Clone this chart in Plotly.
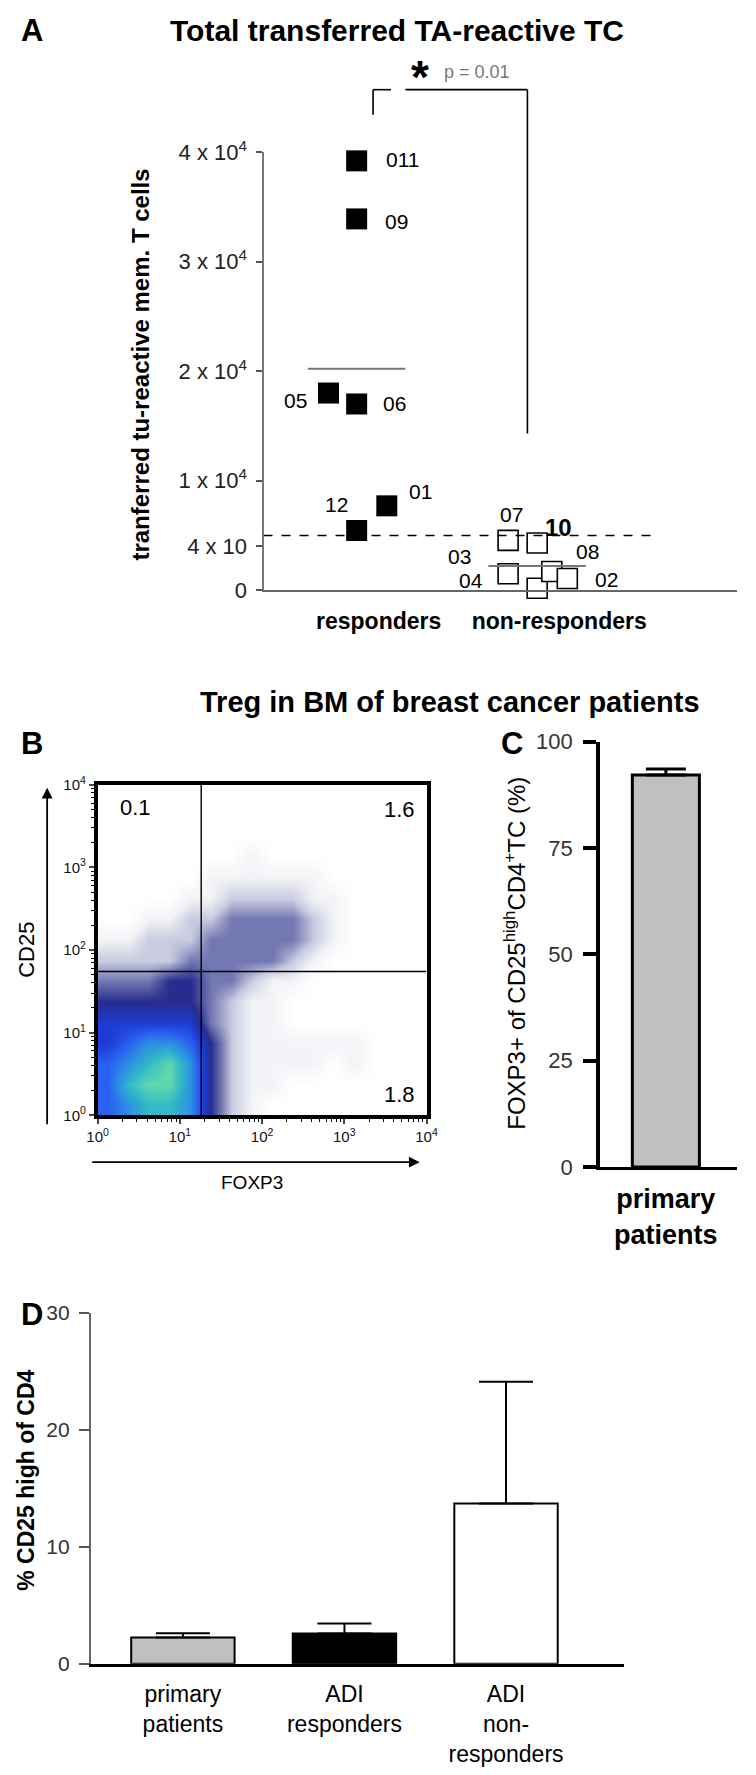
import numpy as np
import plotly.graph_objects as go

# The page keeps the default 8px body margin, so the figure is sized to fill the
# 756x1775 window exactly together with that margin.
PAGE_W, PAGE_H, MARGIN = 756, 1775, 8
W, H = PAGE_W - 2 * MARGIN, PAGE_H - 2 * MARGIN
FONT = "Liberation Sans, Arial, sans-serif"

# ---------------- DATA ----------------
# Panel A: transferred tumour-reactive memory T cells
resp_ids = ["011", "09", "05", "06", "01", "12"]
resp_vals = [39200, 33900, 18000, 17000, 7700, 5450]
resp_jitter = [0.0, 0.0, -0.156, 0.0, 0.167, 0.0]
nonresp_ids = ["07", "10", "03", "04", "08", "02"]
nonresp_vals = [4550, 4300, 1500, 180, 1700, 1070]
nonresp_jitter = [-0.161, 0.0, -0.161, 0.0, 0.081, 0.167]
groups_a = ["responders", "non-responders"]
threshold_a = 5000
p_text = "p = 0.01"
ytick_vals_a = [0, 4000, 10000, 20000, 30000, 40000]
ytick_text_a = ["0", "4 x 10", "1 x 10<sup>4</sup>", "2 x 10<sup>4</sup>",
                "3 x 10<sup>4</sup>", "4 x 10<sup>4</sup>"]

# Panel B: flow cytometry density (log10 decades, 0.25-decade cells, rows from CD25 high to low)
foxp3_centers = [0.125 + 0.25 * i for i in range(16)]
cd25_centers = [0.125 + 0.25 * i for i in range(16)]
density_rows_top_down = [
    [0, 0, 0, 0, 0, 0, 0, 0, 0, 0, 0, 0, 0, 0, 0, 0],
    [0, 0, 0, 0, 0, 0, 0, 0, 0, 0, 0, 0, 0, 0, 0, 0],
    [0, 0, 0, 0, 0, 0, 0, 0, 0, 0, 0, 0, 0, 0, 0, 0],
    [0, 0, 0, 0, 0, 0, 0, 1, 0, 0, 0, 0, 0, 0, 0, 0],
    [0, 0, 0, 0, 0, 1, 1, 1, 1, 1, 1, 0, 0, 0, 0, 0],
    [0, 0, 0, 0, 1, 1, 2, 2, 2, 2, 1, 1, 0, 0, 0, 0],
    [0, 0, 1, 1, 2, 2, 3, 3, 3, 3, 2, 1, 0, 0, 0, 0],
    [1, 1, 2, 2, 2, 3, 3, 3, 3, 3, 2, 1, 0, 0, 0, 0],
    [2, 2, 2, 2, 3, 3, 3, 3, 3, 2, 1, 0, 0, 0, 0, 0],
    [3, 3, 3, 4, 4, 3, 3, 2, 1, 1, 0, 0, 0, 0, 0, 0],
    [4, 4, 4, 4, 4, 3, 2, 1, 1, 0, 0, 0, 0, 0, 0, 0],
    [5, 5, 5, 5, 5, 3, 2, 1, 1, 0, 0, 0, 0, 0, 0, 0],
    [5, 6, 7, 7, 6, 4, 2, 1, 1, 1, 1, 1, 1, 0, 0, 0],
    [6, 7, 8, 9, 7, 4, 2, 1, 1, 1, 1, 0, 1, 0, 0, 0],
    [6, 8, 9, 9, 7, 4, 2, 1, 1, 0, 0, 0, 0, 0, 0, 0],
    [6, 7, 8, 8, 7, 4, 2, 1, 0, 0, 0, 0, 0, 0, 0, 0],
]
gate_foxp3_log = 1.26
gate_cd25_log = 1.74
quadrant_labels = ["0.1", "1.6", "1.8"]

# Panel C
c_groups = ["primary<br>patients"]
c_vals = [92.2]
c_err = [1.4]

# Panel D
d_groups = ["primary<br>patients", "ADI<br>responders", "ADI<br>non-<br>responders"]
d_vals = [2.26, 2.6, 13.7]
d_err = [0.35, 0.85, 10.4]
d_colors = ["#c0c0c0", "#000000", "#ffffff"]

# ---------------- helpers (page pixel -> paper) ----------------
def px(x):
    return min(1.0, max(0.0, (x - MARGIN) / W))

def py(y):
    return min(1.0, max(0.0, 1 - (y - MARGIN) / H))

def to_paper(v, dom, rng):
    return dom[0] + (v - rng[0]) / (rng[1] - rng[0]) * (dom[1] - dom[0])

def note(x, y, text, size, xanchor="center", yanchor="middle", **kw):
    d = dict(x=px(x), y=py(y), xref="paper", yref="paper", text=text, showarrow=False,
             xanchor=xanchor, yanchor=yanchor,
             font=dict(size=size, color=kw.pop("color", "black"), family=FONT))
    d.update(kw)
    return d

fig = go.Figure()

# ---------------- Panel A ----------------
xa_dom = [px(260), px(748)]
ya_dom = [py(587), py(139)]
xa_rng = [0.484, 3.107]
ya_rng = [0, 40000]

rx = [1 + j for j in resp_jitter]
nx = [2 + j for j in nonresp_jitter]
fig.add_trace(go.Scatter(x=rx, y=resp_vals, mode="markers", cliponaxis=False,
                         marker=dict(symbol="square", size=21, color="black"),
                         xaxis="x", yaxis="y", hoverinfo="skip"))
fig.add_trace(go.Scatter(x=nx, y=nonresp_vals, mode="markers", cliponaxis=False,
                         marker=dict(symbol="square", size=20, color="white",
                                     line=dict(color="black", width=1.6)),
                         xaxis="x", yaxis="y", hoverinfo="skip"))

shapes = []
annotations = []
for g, vals in zip([1, 2], [resp_vals, nonresp_vals]):
    m = float(np.mean(vals))
    shapes.append(dict(type="line", xref="x", yref="y", x0=g - 0.27, x1=g + 0.27, y0=m, y1=m,
                       line=dict(color="#777", width=2)))
shapes.append(dict(type="line", xref="x", yref="y", x0=xa_rng[0], x1=2.65,
                   y0=threshold_a, y1=threshold_a, line=dict(color="black", width=1.5, dash="dash")))

lab_off = {"011": (46, -1), "09": (40, 3), "05": (-33, 7), "06": (38, 0), "01": (34, -14),
           "12": (-20, -26), "07": (3, -26), "10": (21, -16), "03": (-49, -17),
           "04": (-66, -8), "08": (36, -20), "02": (39, 1)}
for ids, xs, vals in [(resp_ids, rx, resp_vals), (nonresp_ids, nx, nonresp_vals)]:
    for i, x, v in zip(ids, xs, vals):
        dx, dy = lab_off[i]
        bold = i == "10"
        annotations.append(dict(x=x, y=v, xref="x", yref="y", text=("<b>%s</b>" % i) if bold else i,
                                showarrow=False, xshift=dx, yshift=-dy, xanchor="center", yanchor="middle",
                                font=dict(size=24 if bold else 21, color="black", family=FONT)))

def ax_x(v):
    return to_paper(v, xa_dom, xa_rng)

def ax_y(v):
    return to_paper(v, ya_dom, ya_rng)

bx0, bx1 = 1.091, 1.946
by_top, by_l, by_r = 45700, 43400, 14300
bgap0, bgap1 = 1.19, 1.27
br = dict(color="black", width=1.6)
shapes += [
    dict(type="line", xref="paper", yref="paper", x0=ax_x(bx0), x1=ax_x(bx0), y0=ax_y(by_l), y1=ax_y(by_top), line=br),
    dict(type="line", xref="paper", yref="paper", x0=ax_x(bx0), x1=ax_x(bgap0), y0=ax_y(by_top), y1=ax_y(by_top), line=br),
    dict(type="line", xref="paper", yref="paper", x0=ax_x(bgap1), x1=ax_x(bx1), y0=ax_y(by_top), y1=ax_y(by_top), line=br),
    dict(type="line", xref="paper", yref="paper", x0=ax_x(bx1), x1=ax_x(bx1), y0=ax_y(by_top), y1=ax_y(by_r), line=br),
]
annotations.append(note(421, 62, "<b>*</b>", 46))
annotations.append(note(444, 57, p_text, 18, xanchor="left", color="#777"))
annotations.append(note(398, 15, "<b>Total transferred TA-reactive TC</b>", 30))
annotations.append(note(8, 15, "<b>A</b>", 31, xanchor="left"))
annotations.append(note(133, 356, "<b>tranferred tu-reactive mem. T cells</b>", 24, textangle=-90))

# ---------------- Panel B ----------------
xb_dom = [px(89), px(428)]
yb_dom = [py(1124), py(786)]
z = density_rows_top_down[::-1]
fig.add_trace(go.Heatmap(x=foxp3_centers, y=cd25_centers, z=z, zmin=0, zmax=9, zsmooth="best",
                         showscale=False, hoverinfo="skip", xaxis="x2", yaxis="y2",
                         colorscale=[[0, "#ffffff"], [1 / 9, "#f3f4f7"], [2 / 9, "#c9cbe0"],
                                     [3 / 9, "#7378b2"], [4 / 9, "#262d8e"], [5 / 9, "#1c3bd2"],
                                     [6 / 9, "#2a60f0"], [7 / 9, "#2d90e4"], [8 / 9, "#33bac6"],
                                     [1, "#62d8ae"]]))
shapes += [
    dict(type="line", xref="x2", yref="y2", x0=gate_foxp3_log, x1=gate_foxp3_log, y0=0, y1=4,
         line=dict(color="black", width=1.4)),
    dict(type="line", xref="x2", yref="y2", x0=0, x1=4, y0=gate_cd25_log, y1=gate_cd25_log,
         line=dict(color="black", width=1.4)),
]
annotations += [
    dict(x=0.25, y=3.72, xref="x2", yref="y2", text=quadrant_labels[0], xanchor="left", yanchor="middle",
         showarrow=False, font=dict(size=22, color="black", family=FONT)),
    dict(x=3.88, y=3.7, xref="x2", yref="y2", text=quadrant_labels[1], xanchor="right", yanchor="middle",
         showarrow=False, font=dict(size=22, color="black", family=FONT)),
    dict(x=3.88, y=0.25, xref="x2", yref="y2", text=quadrant_labels[2], xanchor="right", yanchor="middle",
         showarrow=False, font=dict(size=22, color="black", family=FONT)),
]
annotations.append(note(8, 744, "<b>B</b>", 31, xanchor="left"))
annotations.append(note(452, 701, "<b>Treg in BM of breast cancer patients</b>", 29))
annotations.append(dict(x=px(37), y=py(789), xref="paper", yref="paper", ax=0, ay=338, text="",
                        showarrow=True, arrowhead=2, arrowsize=1.2, arrowwidth=1.8, arrowcolor="black"))
annotations.append(dict(x=px(421), y=py(1172), xref="paper", yref="paper", ax=-329, ay=0, text="",
                        showarrow=True, arrowhead=2, arrowsize=1.2, arrowwidth=1.8, arrowcolor="black"))
annotations.append(note(15, 955, "CD25", 22, textangle=-90))
annotations.append(note(248, 1193, "FOXP3", 19))

decades = [0, 1, 2, 3, 4]
dec_text = ["10<sup>%d</sup>" % d for d in decades]
minor_vals = [float(np.log10(k)) + d for d in range(4) for k in range(2, 10)]

# ---------------- Panel C ----------------
fig.add_trace(go.Bar(x=c_groups, y=c_vals, width=0.49, xaxis="x3", yaxis="y3",
                     marker=dict(color="#c0c0c0", line=dict(color="black", width=3)),
                     error_y=dict(type="data", array=c_err, arrayminus=[0], symmetric=False,
                                  color="black", thickness=3, width=20),
                     hoverinfo="skip"))
annotations.append(note(503, 744, "<b>C</b>", 31, xanchor="left"))
annotations.append(note(519, 958, "FOXP3+ of CD25<sup>high</sup>CD4<sup>+</sup>TC (%)", 24, textangle=-90))

# ---------------- Panel D ----------------
for g, v, e, c in zip(d_groups, d_vals, d_err, d_colors):
    fig.add_trace(go.Bar(x=[g], y=[v], width=0.64, xaxis="x4", yaxis="y4",
                         marker=dict(color=c, line=dict(color="black", width=2)),
                         error_y=dict(type="data", array=[e], arrayminus=[0], symmetric=False,
                                      color="black", thickness=2, width=27),
                         hoverinfo="skip"))
annotations.append(note(8, 1328, "<b>D</b>", 31, xanchor="left"))
annotations.append(note(15, 1497, "<b>% CD25 high of CD4</b>", 23, textangle=-90))

# ---------------- layout ----------------
fig.update_layout(
    width=W, height=H, margin=dict(l=0, r=0, t=0, b=0),
    paper_bgcolor="white", plot_bgcolor="white", showlegend=False, barmode="overlay",
    font=dict(family=FONT, color="black"),
    shapes=shapes, annotations=annotations,
    xaxis=dict(domain=xa_dom, range=xa_rng, anchor="y", showline=True, linecolor="#666", linewidth=2,
               ticks="", tickvals=[1, 2], ticktext=groups_a, ticklabelshift=22, ticklabelstandoff=9,
               tickfont=dict(size=23, weight="bold", color="black"),
               showgrid=False, zeroline=False),
    yaxis=dict(domain=ya_dom, range=ya_rng, anchor="x", showline=True, linecolor="#777", linewidth=2,
               ticks="outside", ticklen=6, tickcolor="#555", tickwidth=1.5,
               tickvals=ytick_vals_a, ticktext=ytick_text_a, tickfont=dict(size=22, color="#222"),
               ticklabelstandoff=4, showgrid=False, zeroline=False),
    xaxis2=dict(domain=xb_dom, range=[0, 4], anchor="y2", showline=True, mirror=True, linecolor="black",
                linewidth=3.5, ticks="outside", ticklen=5, tickwidth=1.5, tickvals=decades, ticktext=dec_text,
                tickfont=dict(size=15, color="#111"),
                minor=dict(tickvals=minor_vals, ticks="outside", ticklen=3, tickwidth=1, tickcolor="black"),
                showgrid=False, zeroline=False),
    yaxis2=dict(domain=yb_dom, range=[0, 4], anchor="x2", showline=True, mirror=True, linecolor="black",
                linewidth=3.5, ticks="outside", ticklen=5, tickwidth=1.5, tickvals=decades, ticktext=dec_text,
                tickfont=dict(size=15, color="#111"),
                minor=dict(tickvals=minor_vals, ticks="outside", ticklen=3, tickwidth=1, tickcolor="black"),
                showgrid=False, zeroline=False),
    xaxis3=dict(domain=[px(607), px(748)], range=[-0.48, 0.52], anchor="y3", type="category",
                showline=True, linecolor="black", linewidth=3, ticks="",
                tickfont=dict(size=27, weight="bold", color="black"), ticklabelstandoff=6,
                showgrid=False, zeroline=False),
    yaxis3=dict(domain=[py(1177), py(742)], range=[0, 100], anchor="x3", showline=True, linecolor="black",
                linewidth=4, ticks="outside", ticklen=13, tickwidth=4, tickcolor="black",
                tickvals=[0, 25, 50, 75, 100], tickfont=dict(size=22, color="#333"), ticklabelstandoff=6,
                showgrid=False, zeroline=False),
    xaxis4=dict(domain=[px(82), px(632)], range=[-0.57, 2.733], anchor="y4", type="category",
                showline=True, linecolor="black", linewidth=2.5, ticks="",
                tickfont=dict(size=23, color="black"), ticklabelstandoff=8,
                showgrid=False, zeroline=False),
    yaxis4=dict(domain=[py(1685), py(1326)], range=[0, 30], anchor="x4", showline=True, linecolor="#666",
                linewidth=2, ticks="outside", ticklen=10, tickwidth=1.5, tickcolor="#555",
                tickvals=[0, 10, 20, 30], tickfont=dict(size=21, color="#333"), ticklabelstandoff=5,
                showgrid=False, zeroline=False),
)

fig.write_html("out.html", include_plotlyjs=True, full_html=True, config={"displayModeBar": False})
